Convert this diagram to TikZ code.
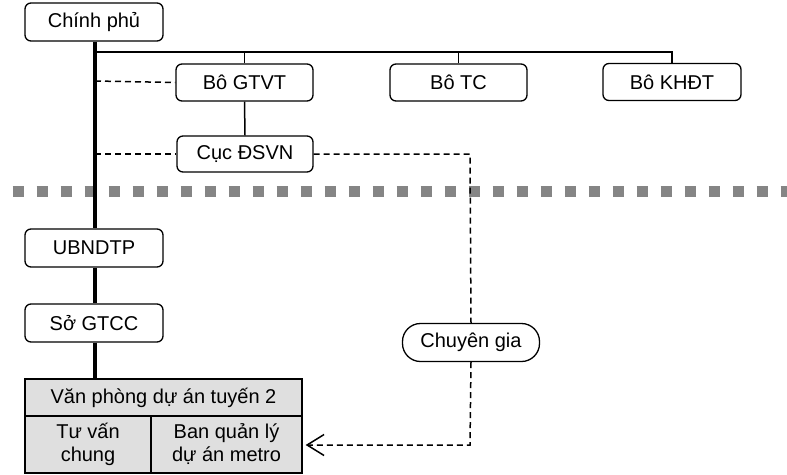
\documentclass[tikz,border=0pt]{standalone}
\usepackage{fontspec}
\setmainfont{Liberation Sans}
\usetikzlibrary{arrows.meta}

\begin{document}
\begin{tikzpicture}[x=1pt,y=-1pt,
    orgbox/.style={draw, rounded corners=6pt, line width=1.3pt, inner sep=0pt,
      minimum width=137pt, minimum height=37pt, font=\fontsize{20}{23}\selectfont},
    pillbox/.style={orgbox, rounded corners=18pt, minimum height=38pt},
    cellbox/.style={draw, line width=1.3pt, fill=gray!25, inner sep=0pt, align=center,
      font=\fontsize{20}{23}\selectfont},
    spine/.style={line width=3.5pt},
    link/.style={line width=1.5pt},
    dashlink/.style={line width=1.5pt, dash pattern=on 6pt off 4pt},
    border/.style={line width=11.5pt, black!48, dash pattern=on 11.5pt off 12.5pt}]
    \useasboundingbox (0,0) rectangle (787,474);

    % level of the government
    \node[orgbox, minimum width=138pt, minimum height=38pt] (gov) at (94,22) {Chính phủ};
    \node[orgbox] (gtvt) at (244.5,82.5) {Bô GTVT};
    \node[orgbox] (tc) at (458.5,82.5) {Bô TC};
    \node[orgbox, minimum width=138pt] (khdt) at (672,82) {Bô KHĐT};
    \node[orgbox, minimum width=136pt, minimum height=36pt] (dsvn) at (245,154) {Cục ĐSVN};

    % level of the city
    \node[orgbox, minimum width=138pt, minimum height=38pt] (ubnd) at (94,248) {UBNDTP};
    \node[orgbox, minimum width=138pt, minimum height=38pt] (sgtcc) at (94,323) {Sở GTCC};
    \node[pillbox] (expert) at (471,342.5) {Chuyên gia};

    \node[cellbox, minimum width=277pt, minimum height=37pt] (office) at (163.5,397.5) {Văn phòng dự án tuyến 2};
    \node[cellbox, minimum width=126pt, minimum height=57pt] (consult) at (88,444.5) {Tư vấn\\chung};
    \node[cellbox, minimum width=151pt, minimum height=57pt] (pmu) at (226.5,444.5) {Ban quản lý\\dự án metro};

    % dividing line
    \draw[border] (12.7,191.5) -- (787,191.5);

    \coordinate (bus) at (95,52);
    \coordinate (tapA) at (95,81);
    \coordinate (tapB) at (95,154);
    \coordinate (turnA) at (470,154);
    \coordinate (turnB) at (470,445);

    \draw[spine] (gov.south -| bus) -- (ubnd.north -| bus);
    \draw[spine] (ubnd.south -| bus) -- (sgtcc.north -| bus);
    \draw[spine] (sgtcc.south -| bus) -- (office.north -| bus);

    \draw[link] (bus) -| (khdt.north);
    \draw[link] (gtvt.north) -- (gtvt.north |- bus);
    \draw[link] (tc.north) -- (tc.north |- bus);
    \draw[link] (gtvt.south) -- (dsvn.north);

    \draw[dashlink] (tapA) -- (gtvt.west);
    \draw[dashlink] (tapB) -- (dsvn.west);
    \draw[dashlink] (dsvn.east) -- (turnA) -- (expert.north);
    \draw[dashlink, -{Straight Barb[length=17pt,width=21pt,line width=1.5pt]}]
      (expert.south) -- (turnB) -- ([xshift=3pt]pmu.east |- turnB);
\end{tikzpicture}
\end{document}
